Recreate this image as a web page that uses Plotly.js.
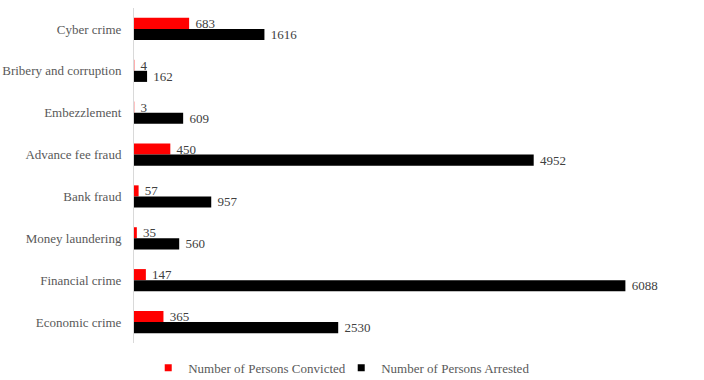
<!DOCTYPE html>
<html><head><meta charset="utf-8">
<script src="https://cdn.plot.ly/plotly-3.0.1.min.js"></script>
<style>html,body{margin:0;padding:0;background:#fff}#chart{width:704px;height:380px}</style>
</head><body><div id="chart"></div>
<script>
const categories = ["Cyber crime","Bribery and corruption","Embezzlement","Advance fee fraud","Bank fraud","Money laundering","Financial crime","Economic crime"];
const convicted = [683,4,3,450,57,35,147,365];
const arrested = [1616,162,609,4952,957,560,6088,2530];
const seriesNames = ["Number of Persons Convicted","Number of Persons Arrested"];
const colors = ['#ff0000','#000000'];
const fontFam = "Liberation Serif, serif";
const lblFont = {family:fontFam,size:13,color:'#404040'};
const traces = [
  {type:'bar',orientation:'h',name:seriesNames[0],y:categories,x:convicted,marker:{color:colors[0]},showlegend:false,
   texttemplate:'\u00a0%{x}',textposition:'outside',constraintext:'none',cliponaxis:false,textfont:lblFont},
  {type:'bar',orientation:'h',name:seriesNames[1],y:categories,x:arrested,marker:{color:colors[1]},showlegend:false,
   texttemplate:'\u00a0%{x}',textposition:'outside',constraintext:'none',cliponaxis:false,textfont:lblFont},
  {type:'scatter',mode:'markers',name:seriesNames[0],x:[null],y:[null],marker:{symbol:'square',size:7,color:colors[0]},hoverinfo:'skip'},
  {type:'scatter',mode:'markers',name:seriesNames[1],x:[null],y:[null],marker:{symbol:'square',size:7,color:colors[1]},hoverinfo:'skip'}
];
const layout = {
  width:704,height:380,margin:{l:134,r:5,t:8,b:37,autoexpand:false},
  paper_bgcolor:'#fff',plot_bgcolor:'#fff',
  barmode:'group',bargap:0.47,bargroupgap:0,
  font:{family:fontFam,size:13,color:'#595959'},
  xaxis:{range:[0,7000],showgrid:false,zeroline:false,showticklabels:false,showline:false,ticks:''},
  yaxis:{autorange:'reversed',type:'category',showgrid:false,zeroline:false,showline:true,linecolor:'#d9d9d9',linewidth:1,ticks:'',ticklabelstandoff:9,tickfont:{family:fontFam,size:13,color:'#595959'}},
  showlegend:true,
  legend:{orientation:'h',xref:'container',x:0.4847,xanchor:'center',yref:'container',y:0.032,yanchor:'middle',
    font:{family:fontFam,size:13,color:'#595959'},itemwidth:30,entrywidth:148,entrywidthmode:'pixels'}
};
Plotly.newPlot('chart',traces,layout,{displayModeBar:false,staticPlot:true});
</script></body></html>
